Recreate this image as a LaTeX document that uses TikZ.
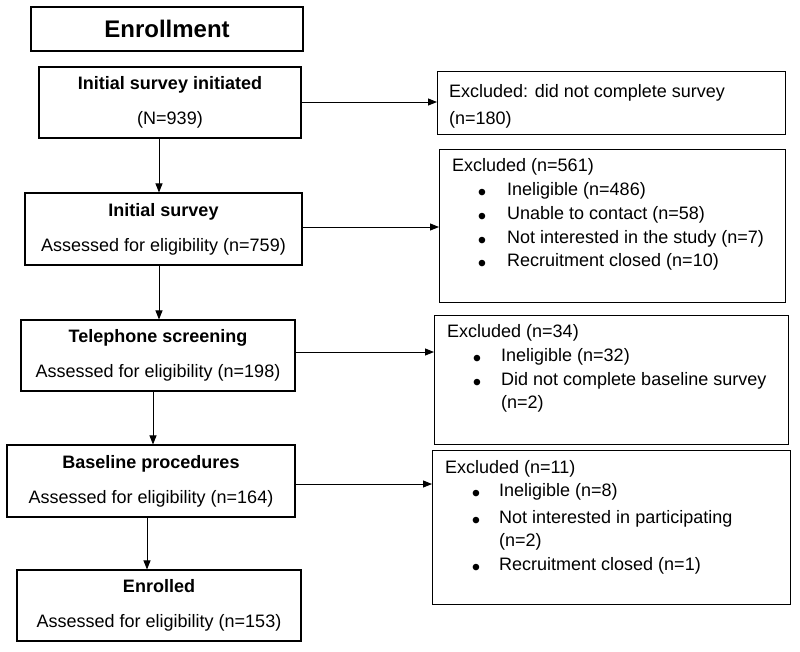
\documentclass[tikz,border=0pt]{standalone}
\usepackage{fontspec}
\setmainfont{Liberation Sans}
\usetikzlibrary{arrows.meta}
\begin{document}
\begin{tikzpicture}[x=1pt,y=-1pt,
  box/.style={draw, line width=1.1pt, rectangle, inner sep=0pt, align=center, font=\fontsize{18}{35}\selectfont},
  exbox/.style={draw, line width=1.1pt, rectangle, inner sep=0pt, anchor=north west},
  txt/.style={anchor=west, inner sep=0pt, text height=13pt, text depth=4pt, font=\fontsize{18}{22}\selectfont},
  bul/.style={anchor=center, inner sep=0pt, text height=6pt, text depth=0pt, yshift=-6.6pt, font=\fontsize{24}{24}\selectfont},
  arr/.style={draw, line width=0.9pt, -{Triangle[length=9pt,width=7pt]}}]
\useasboundingbox (0,0) rectangle (800,651);

% left column
\node[box, minimum width=272pt, minimum height=44pt, font=\fontsize{24}{28}\selectfont\bfseries] (h0) at (167,29) {Enrollment};
\node[box, minimum width=262pt, minimum height=71pt] (b2) at (170,102.5) {\textbf{Initial survey initiated}\\(N=939)};
\node[box, minimum width=277pt, minimum height=72pt] (b4) at (163.5,229) {\textbf{Initial survey}\\Assessed for eligibility (n=759)};
\node[box, minimum width=274pt, minimum height=71pt] (b6) at (158,355.5) {\textbf{Telephone screening}\\Assessed for eligibility (n=198)};
\node[box, minimum width=288pt, minimum height=72pt] (b8) at (151,481) {\textbf{Baseline procedures}\\Assessed for eligibility (n=164)};
\node[box, minimum width=284pt, minimum height=71pt] (b10) at (159,605.5) {\textbf{Enrolled}\\Assessed for eligibility (n=153)};

% right column boxes
\node[exbox, minimum width=348pt, minimum height=63pt] (e1) at (437,71) {};
\node[exbox, minimum width=346pt, minimum height=153pt] (e2) at (439,149) {};
\node[exbox, minimum width=354pt, minimum height=129pt] (e3) at (434,315) {};
\node[exbox, minimum width=358pt, minimum height=154pt] (e4) at (432,450) {};

% e1 text
\node[txt] (e1a) at (449,92.8) {Excluded: did not complete survey};
\node[txt] (e1b) at (449,119.5) {(n=180)};

% e2 text
\node[txt] (e2h) at (452,167) {Excluded (n=561)};
\node[bul] (e2b1) at (482,191) {•};
\node[txt] (e2t1) at (507,191) {Ineligible (n=486)};
\node[bul] (e2b2) at (482,215) {•};
\node[txt] (e2t2) at (507,215) {Unable to contact (n=58)};
\node[bul] (e2b3) at (482,239) {•};
\node[txt] (e2t3) at (507,239) {Not interested in the study (n=7)};
\node[bul] (e2b4) at (482,262) {•};
\node[txt] (e2t4) at (507,262) {Recruitment closed (n=10)};

% e3 text
\node[txt] (e3h) at (447,333) {Excluded (n=34)};
\node[bul] (e3b1) at (477,357) {•};
\node[txt] (e3t1) at (501,357) {Ineligible (n=32)};
\node[bul] (e3b2) at (477,381) {•};
\node[txt] (e3t2) at (501,381) {Did not complete baseline survey};
\node[txt] (e3t3) at (501,404) {(n=2)};

% e4 text
\node[txt] (e4h) at (445,468.5) {Excluded (n=11)};
\node[bul] (e4b1) at (476,492) {•};
\node[txt] (e4t1) at (499,492) {Ineligible (n=8)};
\node[bul] (e4b2) at (476,519) {•};
\node[txt] (e4t2) at (499,519) {Not interested in participating};
\node[txt] (e4t3) at (499,542) {(n=2)};
\node[bul] (e4b3) at (476,566) {•};
\node[txt] (e4t4) at (499,566) {Recruitment closed (n=1)};

% vertical arrows
\coordinate (v1) at ([xshift=-11pt]b2.south);
\draw[arr] (v1) -- (v1 |- b4.north);
\coordinate (v2) at ([xshift=-4.5pt]b4.south);
\draw[arr] (v2) -- (v2 |- b6.north);
\coordinate (v3) at ([xshift=-5pt]b6.south);
\draw[arr] (v3) -- (v3 |- b8.north);
\coordinate (v4) at ([xshift=-4pt]b8.south);
\draw[arr] (v4) -- (v4 |- b10.north);

% horizontal arrows
\coordinate (r1) at ([yshift=0.5pt]b2.east);
\draw[arr] (r1) -- (r1 -| e1.west);
\coordinate (r2) at ([yshift=2pt]b4.east);
\draw[arr] (r2) -- (r2 -| e2.west);
\coordinate (r3) at ([yshift=3.5pt]b6.east);
\draw[arr] (r3) -- (r3 -| e3.west);
\coordinate (r4) at ([yshift=-3pt]b8.east);
\draw[arr] (r4) -- (r4 -| e4.west);
\end{tikzpicture}
\end{document}
